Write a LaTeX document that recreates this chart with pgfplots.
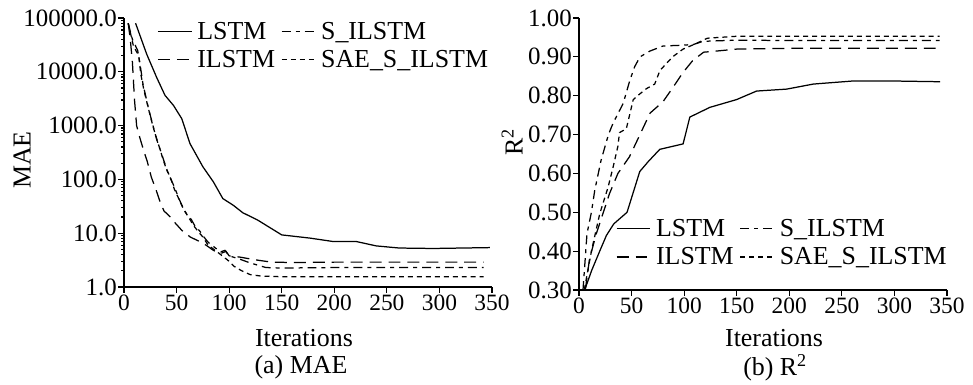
\documentclass[border=0pt]{standalone}
\usepackage{fontspec}
\setmainfont{Liberation Serif}
\usepackage{pgfplots}
\pgfplotsset{compat=1.18}
\pgfplotsset{
  myaxis/.style={
    scale only axis,
    axis x line*=bottom, axis y line*=left,
    axis line style={line width=1.8pt, -},
    xmin=0, xmax=350, xtick={0,50,...,350},
    every tick/.style={line width=1.2pt, black},
    major tick length=6pt,
    tick align=outside,
    /pgf/number format/assume math mode=true,
    xticklabel style={font=\fontsize{23.5}{26}\selectfont, inner sep=2pt},
    yticklabel style={font=\fontsize{25}{28}\selectfont, inner sep=1pt},
    label style={font=\fontsize{26}{29}\selectfont},
    legend columns=2,
    legend cell align=left,
    legend style={font=\fontsize{26}{29}\selectfont, draw=none, fill=none, inner sep=0pt, row sep=8pt,
      /tikz/every even column/.append style={column sep=5pt},
      /tikz/every odd column/.append style={column sep=4pt},
      nodes={inner sep=1pt}},
    legend image code/.code={\draw[#1, line width=1.2pt] (0pt,0pt) -- (34pt,0pt);},
  },
  lstm/.style={black, solid, line width=1.25pt},
  ilstm/.style={black, line width=1.25pt, dash pattern=on 12pt off 7pt},
  silstm/.style={black, line width=1.25pt, dash pattern=on 9pt off 5pt on 4pt off 5pt},
  sae/.style={black, line width=1.25pt, dash pattern=on 5pt off 4pt},
}
\begin{document}
\begin{tikzpicture}
\useasboundingbox (0,0) rectangle (973bp,385bp);
% ---------------- (a) MAE
\begin{axis}[myaxis,
  at={(124bp,98bp)}, anchor=south west,
  width=368bp, height=269bp,
  ymode=log, ymin=1, ymax=100000,
  ytick={1,10,100,1000,10000,100000},
  yticklabels={1.0,10.0,100.0,1000.0,10000.0,100000.0},
  xlabel={Iterations}, ylabel={MAE},
  xlabel style={at={(axis description cs:0.489,-0.19)}, anchor=center},
  ylabel style={at={(axis description cs:-0.277,0.472)}, anchor=center},
  legend style={at={(axis description cs:0.09,0.99)}, anchor=north west},
]
\addplot[lstm] coordinates {(11,80000) (21.5,21500) (31,7900) (39,3650) (47,2380) (55,1340) (62.7,465) (75,172) (85,90) (94,44) (104,33) (113,24) (127,17.6) (150,9.3) (177,8.1) (199,7.0) (221,7.0) (240,5.8) (262,5.3) (294,5.2) (348,5.4)};
\addlegendentry{LSTM}
\addplot[silstm] coordinates {(4,80000) (8,40000) (13,25000) (15,15000) (18,6000) (23,2200) (27,1100) (31,560) (35,330) (38,220) (42,130) (48,72) (52,45) (56,30) (60,22) (64,18) (68,13) (72,11) (76,8.5) (80,6.8) (87,5.3) (92,4.5) (96,4.8) (100,3.8) (110,3.3) (120,2.8) (135,2.3) (150,2.25) (200,2.3) (342,2.3)};
\addlegendentry{S\_ILSTM}
\addplot[ilstm] coordinates {(4,80000) (6,40000) (8,15000) (10,3000) (12,1000) (15,600) (19,330) (22,220) (26,110) (30,68) (34,40) (38,26) (44,20) (48,16) (55,11.3) (63,8.5) (70,7.3) (78,6.0) (85,4.8) (92,4.2) (97,4.6) (100,3.8) (110,3.6) (125,3.2) (140,2.9) (160,2.85) (200,2.9) (342,2.9)};
\addlegendentry{ILSTM}
\addplot[sae] coordinates {(4,80000) (9,30000) (14,20000) (16,9000) (19,4500) (24,1800) (28,900) (32,500) (36,280) (40,160) (44,110) (48,65) (53,40) (57,27) (62,19) (66,14) (71,10.5) (75,8.5) (80,6.0) (88,4.6) (95,3.6) (100,3.0) (105,2.4) (112,2.0) (120,1.7) (130,1.6) (150,1.55) (342,1.55)};
\addlegendentry{SAE\_S\_ILSTM}
\end{axis}
% ---------------- (b) R2
\begin{axis}[myaxis,
  at={(579bp,95bp)}, anchor=south west,
  width=368bp, height=272bp,
  ymin=0.3, ymax=1.0,
  ytick={0.3,0.4,0.5,0.6,0.7,0.8,0.9,1.0},
  yticklabel style={/pgf/number format/.cd, fixed, fixed zerofill, precision=2},
  xlabel={Iterations}, ylabel={R\textsuperscript{2}},
  xlabel style={at={(axis description cs:0.53,-0.176)}, anchor=center},
  ylabel style={at={(axis description cs:-0.182,0.544)}, anchor=center},
  legend style={at={(axis description cs:0.1,0.265)}, anchor=north west},
]
\addplot[lstm] coordinates {(5.4,0.30) (12,0.35) (19.7,0.40) (26,0.44) (33,0.47) (45.7,0.50) (57.8,0.605) (65.7,0.63) (76.8,0.662) (99,0.676) (105.4,0.745) (124.4,0.77) (149.8,0.79) (168.9,0.812) (197.5,0.817) (222.9,0.83) (261,0.838) (296,0.838) (343.5,0.836)};
\addlegendentry{LSTM}
\addplot[silstm] coordinates {(3.8,0.30) (7.6,0.445) (11.8,0.50) (15,0.557) (21,0.634) (28,0.70) (32.5,0.73) (42,0.78) (48.4,0.84) (53,0.875) (58,0.90) (67.5,0.915) (80,0.928) (99,0.93) (109,0.932) (118,0.94) (150,0.943) (200,0.942) (343,0.942)};
\addlegendentry{S\_ILSTM}
\addplot[ilstm] coordinates {(6,0.30) (10,0.38) (16.5,0.445) (29,0.548) (37,0.60) (48,0.643) (58,0.70) (67.5,0.755) (80,0.785) (89,0.82) (99,0.86) (108,0.89) (118.5,0.912) (131,0.915) (150,0.92) (200,0.922) (343,0.922)};
\addlegendentry{ILSTM}
\addplot[sae] coordinates {(5,0.30) (11.8,0.40) (19.7,0.496) (27.7,0.565) (32.5,0.617) (37,0.67) (38.5,0.705) (45,0.715) (51.6,0.79) (58,0.805) (64,0.818) (72,0.83) (77,0.865) (89,0.90) (99,0.92) (112,0.935) (122,0.948) (150,0.953) (343,0.953)};
\addlegendentry{SAE\_S\_ILSTM}
\end{axis}
\node[font=\fontsize{26}{29}\selectfont] at (301bp,18bp) {(a) MAE};
\node[font=\fontsize{26}{29}\selectfont] at (775bp,17bp) {(b) R\textsuperscript{2}};
\end{tikzpicture}
\end{document}
